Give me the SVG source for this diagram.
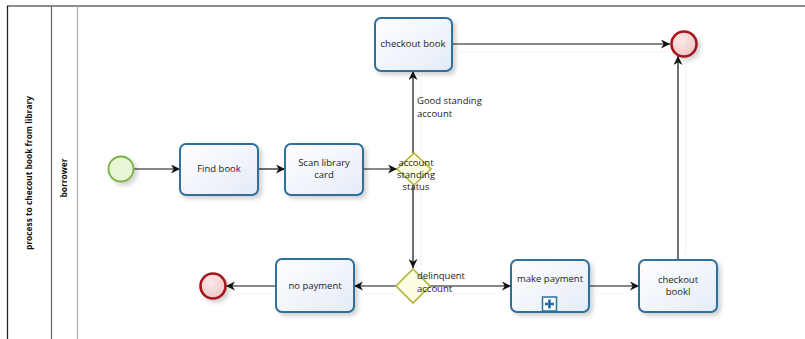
<svg xmlns="http://www.w3.org/2000/svg" width="805" height="339" viewBox="0 0 805 339">
  <style>
    .task { fill: url(#taskFill); stroke: #2f6f9b; stroke-width: 2; filter: url(#shadow); }
    .label { font-family: "Open Sans", "Liberation Sans", sans-serif; font-size: 9.5px; fill: #222; }
    .mid { text-anchor: middle; }
    .flow { stroke: #111; stroke-width: 1.2; fill: none; marker-end: url(#arrow); }
    .ghost { stroke: #f3f3f3; stroke-width: 1.2; fill: none; }
    .gate { fill: #fdfde2; stroke: #b3b33a; stroke-width: 1.6; }
    .endEv { fill: url(#endFill); stroke: #a3191c; stroke-width: 2.6; filter: url(#shadow); }
    .startEv { fill: #eaf7d6; stroke: #78b041; stroke-width: 1.8; filter: url(#shadow); }
    .hdr { font-family: "Open Sans", "Liberation Sans", sans-serif; font-size: 8.4px; font-weight: bold; fill: #111; text-anchor: middle; }
  </style>
  <defs>
    <linearGradient id="taskFill" x1="0" y1="0" x2="1" y2="1">
      <stop offset="0" stop-color="#ffffff"/>
      <stop offset="1" stop-color="#e4ebf7"/>
    </linearGradient>
    <radialGradient id="endFill" cx="0.4" cy="0.35" r="0.7">
      <stop offset="0" stop-color="#fbeaea"/>
      <stop offset="1" stop-color="#efc4c4"/>
    </radialGradient>
    <filter id="shadow" x="-20%" y="-20%" width="150%" height="150%">
      <feDropShadow dx="3" dy="3" stdDeviation="2" flood-color="#000" flood-opacity="0.18"/>
    </filter>
    <marker id="arrow" viewBox="0 0 10 10" refX="10" refY="5" markerWidth="9" markerHeight="9" markerUnits="userSpaceOnUse" orient="auto">
      <path d="M0,0 L10,5 L0,10 L3,5 z" fill="#111"/>
    </marker>
  </defs>

  <!-- pool and lane frame -->
  <g id="pool">
    <line x1="7" y1="6" x2="805" y2="6" stroke="#666" stroke-width="1.5"/>
    <line x1="7.5" y1="6" x2="7.5" y2="339" stroke="#222" stroke-width="1.3"/>
    <line x1="51.5" y1="6" x2="51.5" y2="339" stroke="#666" stroke-width="1.2"/>
    <line x1="77.5" y1="6" x2="77.5" y2="339" stroke="#aaa" stroke-width="1.2"/>
    <text class="hdr" transform="translate(32,173) rotate(-90)">process to checout book from library</text>
    <text class="hdr" transform="translate(67,178) rotate(-90)">borrower</text>
  </g>

  <!-- sequence flows -->
  <g id="connectors">
    <!-- faint flow shadows -->
    <line class="ghost" x1="421" y1="150" x2="421" y2="78"/>
    <line class="ghost" x1="421" y1="190" x2="421" y2="266"/>
    <line class="ghost" x1="460" y1="52" x2="668" y2="52"/>
    <line class="ghost" x1="686" y1="255" x2="686" y2="62"/>
    <line class="ghost" x1="395" y1="294" x2="362" y2="294"/>
    <line class="ghost" x1="272" y1="294" x2="234" y2="294"/>
    <line class="ghost" x1="436" y1="294" x2="508" y2="294"/>
    <line class="ghost" x1="596" y1="294" x2="636" y2="294"/>

    <line class="flow" x1="134" y1="169" x2="180" y2="169"/>
    <line class="flow" x1="258" y1="169" x2="285" y2="169"/>
    <line class="flow" x1="363" y1="169" x2="397" y2="169"/>
    <line class="flow" x1="413" y1="153" x2="413" y2="71"/>
    <line class="flow" x1="452" y1="44" x2="670" y2="44"/>
    <line class="flow" x1="413" y1="185" x2="413" y2="268"/>
    <line class="flow" x1="397" y1="286" x2="354" y2="286"/>
    <line class="flow" x1="276" y1="286" x2="226" y2="286"/>
    <line class="flow" x1="430" y1="286" x2="511" y2="286"/>
    <line class="flow" x1="589" y1="286" x2="639" y2="286"/>
    <line class="flow" x1="678" y1="260" x2="678" y2="56"/>
    <text class="label" x="417" y="104">Good standing</text>
    <text class="label" x="417" y="117">account</text>
  </g>

  <g id="start">
    <circle class="startEv" cx="121" cy="169" r="12.5"/>
  </g>

  <g id="findBook">
    <rect class="task" x="180" y="144" width="78" height="51" rx="6"/>
    <text class="label mid" x="219" y="172">Find book</text>
  </g>

  <g id="scanCard">
    <rect class="task" x="285" y="144" width="78" height="51" rx="6"/>
    <text class="label mid" x="324" y="166">Scan library</text>
    <text class="label mid" x="324" y="178">card</text>
  </g>

  <g id="standingGateway">
    <path class="gate" d="M414,153 L431,169 L414,185 L397,169 z"/>
    <text class="label mid" x="416" y="166">account</text>
    <text class="label mid" x="416" y="178">standing</text>
    <text class="label mid" x="416" y="190">status</text>
  </g>

  <g id="checkoutBook">
    <rect class="task" x="375" y="18" width="77" height="53" rx="6"/>
    <text class="label mid" x="413" y="47">checkout book</text>
  </g>

  <g id="endTop">
    <circle class="endEv" cx="684" cy="44" r="12.5"/>
  </g>

  <g id="delinquentGateway">
    <path class="gate" d="M413,269 L430,286 L413,303 L396,286 z"/>
    <text class="label" x="417" y="279">delinquent</text>
    <text class="label" x="417" y="292">account</text>
  </g>

  <g id="noPayment">
    <rect class="task" x="276" y="259" width="78" height="53" rx="6"/>
    <text class="label mid" x="315" y="289">no payment</text>
  </g>

  <g id="endBottom">
    <circle class="endEv" cx="213" cy="286" r="12.5"/>
  </g>

  <g id="makePayment">
    <rect class="task" x="511" y="260" width="78" height="52" rx="6"/>
    <text class="label mid" x="550" y="282">make payment</text>
    <rect x="542.5" y="297" width="14" height="14" fill="#fff" stroke="#2f6f9b" stroke-width="1.5"/>
    <path d="M549.5,299.5 V308.5 M545,304 H554" stroke="#1f6ea6" stroke-width="2.6"/>
  </g>

  <g id="checkoutBookl">
    <rect class="task" x="639" y="260" width="78" height="52" rx="6"/>
    <text class="label mid" x="678" y="283">checkout</text>
    <text class="label mid" x="678" y="295">bookl</text>
  </g>
</svg>
